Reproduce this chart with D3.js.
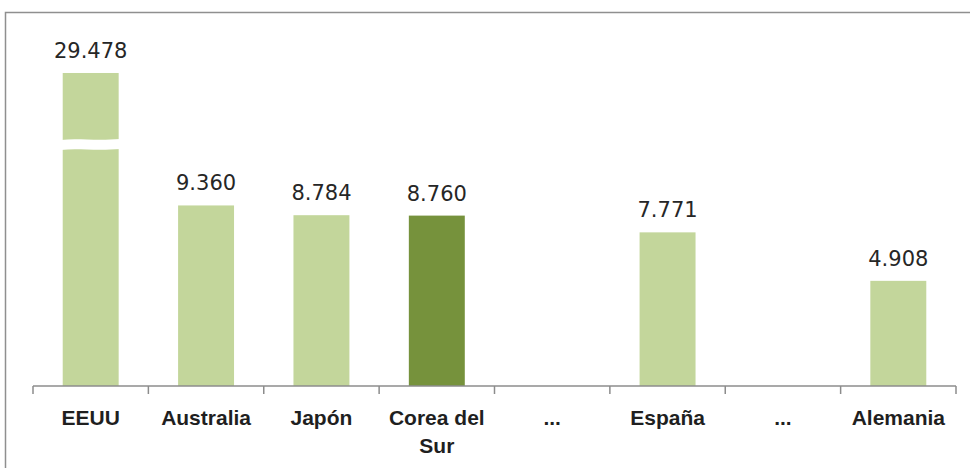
<!DOCTYPE html>
<head>
  <meta charset="utf-8">
  <title>Corea del Sur bar</title>
  <style>
    body { margin: 0; background: #ffffff; }
    .valueLabel { font-family: "DejaVu Sans", Verdana, sans-serif; font-size: 21px; fill: #262626; }
    .catLabel { font-family: "Liberation Sans", Arial, sans-serif; font-weight: bold; font-size: 21px; fill: #1f1f1f; }
  </style>
</head>
<body>
  <script src="https://cdn.jsdelivr.net/npm/d3@7/dist/d3.min.js"></script>
  <script>
    // data
    var categories = ["EEUU", "Australia", "Japón", "Corea del Sur", "...", "España", "...", "Alemania"];
    var values = [29478, 9360, 8784, 8760, null, 7771, null, 4908];
    var highlight = "Corea del Sur";

    // the EEUU bar is cut: drawn up to this value, with a gap in between
    var capValue = 17180;
    var breakFrom = 12630, breakTo = 13280;

    var width = 970, height = 468;

    var svg = d3.select("body").append("svg")
      .attr("width", width)
      .attr("height", height);

    // outer frame of the chart area (right and bottom run off the picture)
    svg.append("rect")
      .attr("x", 5.5).attr("y", 12.5)
      .attr("width", 1000).attr("height", 500)
      .attr("fill", "none")
      .attr("stroke", "#8f8f8f")
      .attr("stroke-width", 1.5);

    var x = d3.scaleBand()
      .domain(d3.range(categories.length))
      .range([33, 956])
      .padding(0);

    var y = d3.scaleLinear()
      .domain([-1300, 10000])
      .range([386, 194.6]);

    var barW = x.bandwidth() * 0.485;

    var es = d3.formatLocale({ decimal: ",", thousands: ".", grouping: [3], currency: ["", "€"] });
    var fmt = es.format(",.0f");

    var data = categories.map(function (c, i) {
      return { i: i, name: c, value: values[i] };
    });
    var shown = data.filter(function (d) { return d.value != null; });

    // bars
    svg.selectAll(".bar")
      .data(shown)
      .enter().append("rect")
      .attr("class", "bar")
      .attr("x", function (d) { return x(d.i) + (x.bandwidth() - barW) / 2; })
      .attr("width", barW)
      .attr("y", function (d) { return y(Math.min(d.value, capValue)); })
      .attr("height", function (d) { return y(-1300) - y(Math.min(d.value, capValue)); })
      .attr("fill", function (d) { return d.name == highlight ? "#76923c" : "#c3d69b"; });

    // white break across the cut bar
    shown.filter(function (d) { return d.value > capValue; }).forEach(function (d) {
      var x0 = x(d.i) + (x.bandwidth() - barW) / 2 - 2, x1 = x0 + barW + 4;
      var yt = y(breakTo), yb = y(breakFrom);
      var p = d3.path();
      p.moveTo(x0, yt + 1);
      p.bezierCurveTo(x0 + barW * 0.3, yt - 1, x0 + barW * 0.6, yt + 2, x1, yt);
      p.lineTo(x1, yb - 1);
      p.bezierCurveTo(x0 + barW * 0.6, yb + 1, x0 + barW * 0.3, yb - 2, x0, yb);
      p.closePath();
      svg.append("path").attr("d", p.toString()).attr("fill", "#ffffff");
    });

    // value labels
    svg.selectAll(".valueLabel")
      .data(shown)
      .enter().append("text")
      .attr("class", "valueLabel")
      .attr("text-anchor", "middle")
      .attr("x", function (d) { return x(d.i) + x.bandwidth() / 2; })
      .attr("y", function (d) { return y(Math.min(d.value, capValue)) - 15; })
      .text(function (d) { return fmt(d.value); });

    // x axis with ticks between categories
    var axis = svg.append("g").attr("transform", "translate(0,386)");
    axis.append("line")
      .attr("x1", 33).attr("x2", 956)
      .attr("stroke", "#8c8c8c").attr("stroke-width", 1.5);
    axis.selectAll(".tick")
      .data(d3.range(categories.length + 1))
      .enter().append("line")
      .attr("x1", function (i) { return i < categories.length ? x(i) : x(i - 1) + x.bandwidth(); })
      .attr("x2", function (i) { return i < categories.length ? x(i) : x(i - 1) + x.bandwidth(); })
      .attr("y1", 0).attr("y2", 8)
      .attr("stroke", "#8c8c8c").attr("stroke-width", 1.5);

    // category labels, wrapped to the band width
    var labels = svg.selectAll(".catLabel")
      .data(data)
      .enter().append("text")
      .attr("class", "catLabel")
      .attr("text-anchor", "middle")
      .attr("x", function (d) { return x(d.i) + x.bandwidth() / 2; })
      .attr("y", 425);

    labels.each(function (d) {
      var text = d3.select(this), words = d.name.split(" "), line = [], lineNo = 0;
      var cx = x(d.i) + x.bandwidth() / 2;
      var tspan = text.append("tspan").attr("x", cx).attr("dy", 0);
      words.forEach(function (w) {
        line.push(w);
        tspan.text(line.join(" "));
        if (tspan.node().getComputedTextLength() > x.bandwidth() - 8 && line.length > 1) {
          line.pop();
          tspan.text(line.join(" "));
          line = [w];
          lineNo++;
          tspan = text.append("tspan").attr("x", cx).attr("dy", 28).text(w);
        }
      });
    });
  </script>
</body>
